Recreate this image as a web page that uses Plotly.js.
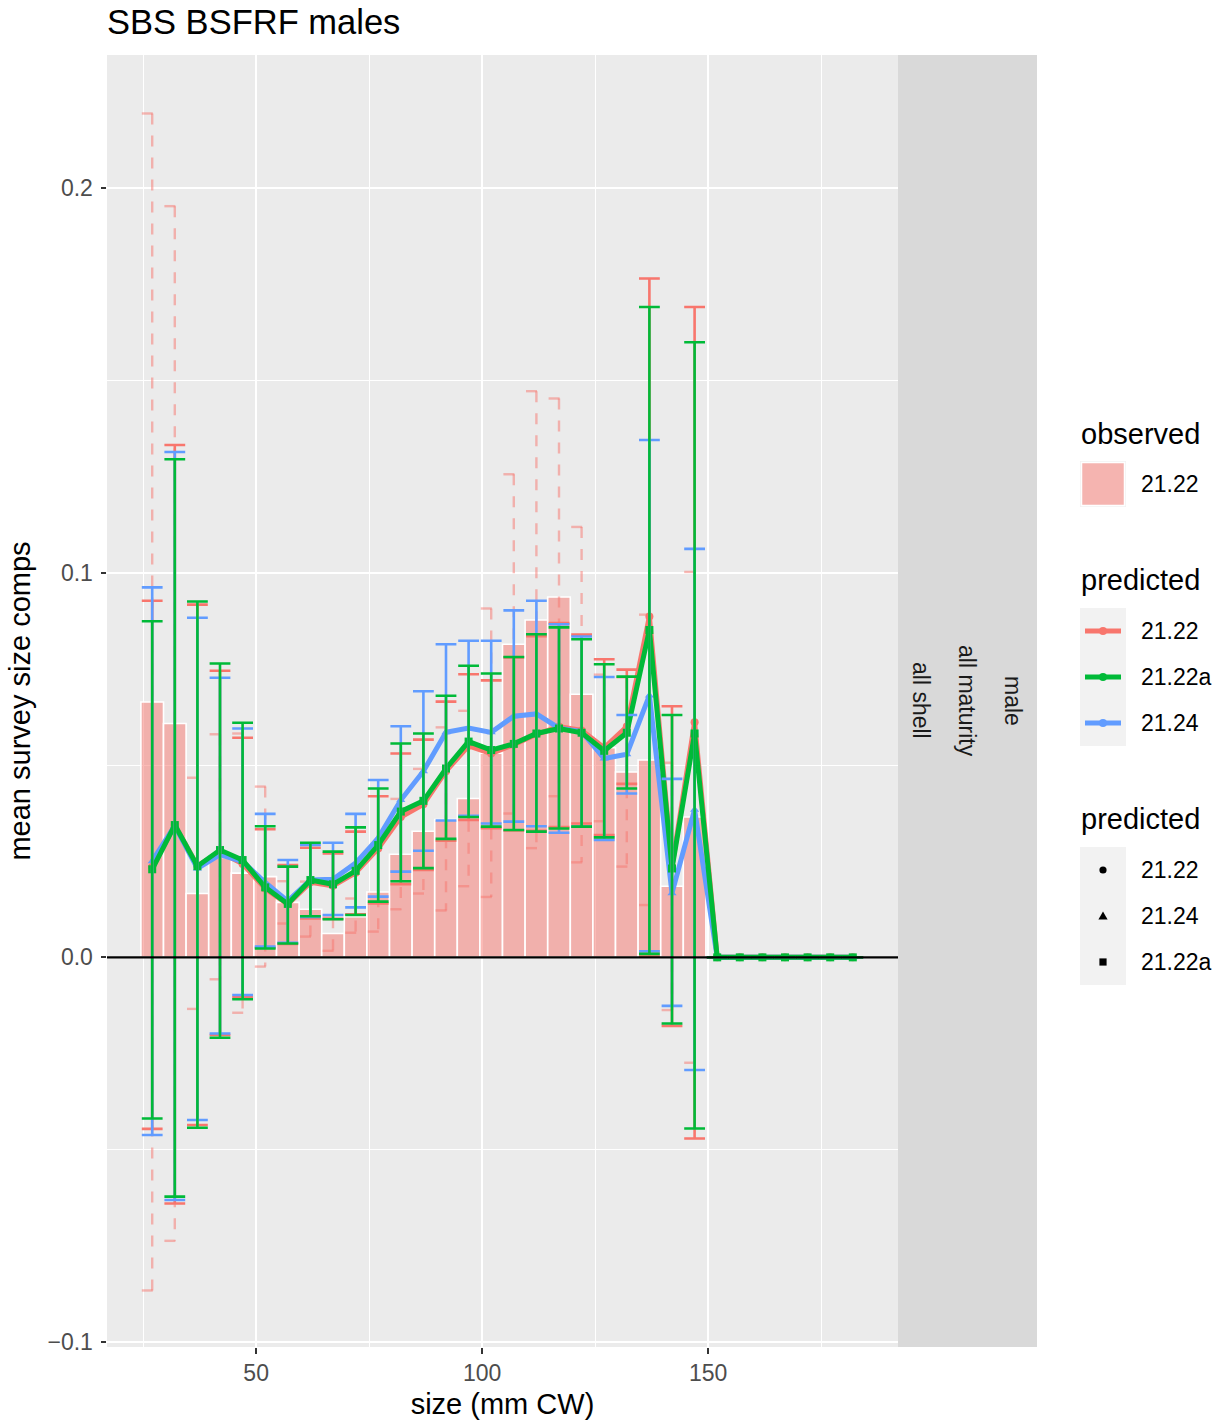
<!DOCTYPE html>
<html><head><meta charset="utf-8">
<script src="https://cdn.plot.ly/plotly-3.0.1.min.js"></script>
<style>html,body{margin:0;padding:0;background:#fff;} #chart{width:1225px;height:1424px;}</style>
</head><body><div id="chart"></div>
<script>
// ---------------- data ----------------
const sizeBins = [27,32,37,42,47,52,57,62,67,72,77,82,87,92,97,102,107,112,117,122,127,132,137,142,147,152,157,162,167,172,177,182];

const observed   = [0.0664,0.0608,0.0166,0.0260,0.0219,0.0210,0.0143,0.0125,0.0062,0.0106,0.0170,0.0268,0.0328,0.0358,0.0413,0.0531,0.0814,0.0877,0.0937,0.0684,0.0545,0.0482,0.0513,0.0185,0.0365,0,0,0,0,0,0,0];
const observedLo = [-0.0866,-0.0737,-0.0134,-0.0057,-0.0144,-0.0024,0.0088,0.0054,0.0017,0.0064,0.0067,0.0125,0.0166,0.0122,0.0185,0.0157,0.0374,0.0284,0.0419,0.0247,0.0354,0.0236,0.0136,-0.0137,-0.0274,null,null,null,null,null,null,null];
const observedHi = [0.2194,0.1953,0.0467,0.0580,0.0582,0.0444,0.0198,0.0197,0.0104,0.0153,0.0273,0.0412,0.0490,0.0598,0.0641,0.0907,0.1256,0.1472,0.1453,0.1119,0.0735,0.0728,0.0891,0.0506,0.1002,null,null,null,null,null,null,null];

// predicted 21.22
const pred2122   = [0.0235,0.0344,0.0238,0.0274,0.0243,0.0179,0.0138,0.0195,0.0186,0.0220,0.0283,0.0365,0.0398,0.0484,0.0550,0.0530,0.0553,0.0580,0.0600,0.0590,0.0545,0.0600,0.0886,0.0236,0.0611,0,0,0,0,0,0,0];
const pred2122Lo = [-0.0446,-0.0640,-0.0436,-0.0202,-0.0104,0.0025,0.0035,0.0101,0.0100,0.0112,0.0140,0.0190,0.0227,0.0303,0.0357,0.0336,0.0330,0.0329,0.0339,0.0348,0.0318,0.0451,0.0002,-0.0178,-0.0471,0,0,0,0,0,0,0];
const pred2122Hi = [0.0927,0.1332,0.0917,0.0745,0.0571,0.0333,0.0240,0.0285,0.0270,0.0327,0.0419,0.0530,0.0566,0.0665,0.0736,0.0720,0.0780,0.0835,0.0869,0.0839,0.0775,0.0748,0.1765,0.0653,0.1691,0,0,0,0,0,0,0];

// predicted 21.22a
const pred2122a   = [0.0229,0.0344,0.0237,0.0279,0.0253,0.0182,0.0139,0.0201,0.0190,0.0225,0.0292,0.0379,0.0407,0.0491,0.0561,0.0539,0.0555,0.0582,0.0595,0.0584,0.0537,0.0584,0.0851,0.0231,0.0582,0,0,0,0,0,0,0];
const pred2122aLo = [-0.0419,-0.0622,-0.0443,-0.0209,-0.0109,0.0023,0.0036,0.0107,0.0099,0.0110,0.0145,0.0198,0.0232,0.0308,0.0365,0.0340,0.0331,0.0327,0.0335,0.0340,0.0312,0.0439,0.0009,-0.0172,-0.0445,0,0,0,0,0,0,0];
const pred2122aHi = [0.0874,0.1295,0.0925,0.0764,0.0610,0.0341,0.0236,0.0298,0.0275,0.0338,0.0439,0.0556,0.0582,0.0680,0.0758,0.0738,0.0781,0.0840,0.0858,0.0827,0.0762,0.0730,0.1691,0.0630,0.1599,0,0,0,0,0,0,0];

// predicted 21.24
const pred2124   = [0.0250,0.0342,0.0231,0.0267,0.0249,0.0195,0.0146,0.0201,0.0203,0.0245,0.0310,0.0409,0.0484,0.0585,0.0596,0.0585,0.0627,0.0633,0.0596,0.0587,0.0517,0.0528,0.0681,0.0167,0.0384,0,0,0,0,0,0,0];
const pred2124Lo = [-0.0462,-0.0631,-0.0423,-0.0198,-0.0098,0.0028,0.0038,0.0105,0.0110,0.0130,0.0158,0.0223,0.0277,0.0356,0.0368,0.0348,0.0353,0.0341,0.0324,0.0340,0.0305,0.0426,0.0016,-0.0126,-0.0293,0,0,0,0,0,0,0];
const pred2124Hi = [0.0962,0.1314,0.0883,0.0727,0.0595,0.0373,0.0253,0.0292,0.0298,0.0373,0.0461,0.0601,0.0692,0.0814,0.0823,0.0823,0.0902,0.0927,0.0866,0.0834,0.0729,0.0630,0.1345,0.0464,0.1062,0,0,0,0,0,0,0];

const seriesNames = ['21.22','21.22a','21.24'];
const shapeLegendOrder = ['21.22','21.24','21.22a'];
const stripLabels = ['all shell','all maturity','male'];
const xTickVals = [50,100,150];
const xMinorVals = [25,75,125,175];
const yTickVals = [-0.1,0,0.1,0.2];
const yTickText = ['\u22120.1','0.0','0.1','0.2'];
const yMinorVals = [-0.05,0.05,0.15];

// ---------------- styles ----------------
const FONT = 'Liberation Sans, Arial, Helvetica, sans-serif';
const COL = {'21.22':'#F8766D','21.22a':'#00BA38','21.24':'#619CFF'};
const SYM = {'21.22':'circle','21.22a':'square','21.24':'triangle-up'};
const OBS_FILL = 'rgba(248,118,109,0.5)';
const ERR_HALF = 2.3; // half width of observed error bar, x units

const series = {
  '21.22':  {v: pred2122,  lo: pred2122Lo,  hi: pred2122Hi},
  '21.22a': {v: pred2122a, lo: pred2122aLo, hi: pred2122aHi},
  '21.24':  {v: pred2124,  lo: pred2124Lo,  hi: pred2124Hi}
};

const traces = [];
// observed bars
traces.push({type:'bar', x:sizeBins, y:observed, width:5,
  marker:{color:OBS_FILL, line:{color:'#FFFFFF', width:1.6}}, hoverinfo:'skip', showlegend:false});

// observed CI (dashed errorbar path)
const ox = [], oy = [];
sizeBins.forEach((s,i) => {
  const lo = observedLo[i], hi = observedHi[i];
  if (lo === null || hi === null) return;
  ox.push(s-ERR_HALF, s+ERR_HALF, null, s, s, null, s-ERR_HALF, s+ERR_HALF, null);
  oy.push(hi, hi, null, hi, lo, null, lo, lo, null);
});
traces.push({type:'scatter', mode:'lines', x:ox, y:oy, connectgaps:false,
  line:{color:OBS_FILL, width:2.4, dash:'11px,11px'}, hoverinfo:'skip', showlegend:false});

const drawOrder = ['21.22','21.24','21.22a'];
// predicted lines + points
drawOrder.forEach(n => {
  const d = series[n];
  traces.push({type:'scatter', mode:'lines+markers', x:sizeBins, y:d.v, name:n,
    line:{color:COL[n], width:5}, marker:{color:COL[n], symbol:SYM[n], size:8},
    hoverinfo:'skip', showlegend:false});
});
// predicted error bars
drawOrder.forEach(n => {
  const d = series[n];
  traces.push({type:'scatter', mode:'markers', x:sizeBins, y:d.v,
    marker:{color:'rgba(0,0,0,0)', size:1},
    error_y:{type:'data', symmetric:false,
      array:d.hi.map((h,i)=>h-d.v[i]), arrayminus:d.lo.map((l,i)=>d.v[i]-l),
      color:COL[n], thickness:2.6, width:10.4},
    hoverinfo:'skip', showlegend:false});
});

// ---------------- layout helpers (pixel -> paper) ----------------
const L = 107, R = 898, T = 55, B = 1347;
const px = v => (v - L) / (R - L);
const py = v => (B - v) / (B - T);

const shapes = [];
const annotations = [];
// zero reference line
shapes.push({type:'line', xref:'paper', x0:0, x1:1, yref:'y', y0:0, y1:0,
  line:{color:'#000000', width:2.2}, layer:'above'});
// facet strip
shapes.push({type:'rect', xref:'paper', yref:'paper', x0:1, x1:px(1037), y0:0, y1:1,
  fillcolor:'#D9D9D9', line:{width:0}, layer:'below'});
stripLabels.forEach((t,i) => {
  annotations.push({text:t, xref:'paper', yref:'paper', x:px(921 + i*46), y:0.5,
    textangle:90, showarrow:false, xanchor:'center', yanchor:'middle',
    font:{family:FONT, size:23, color:'#1A1A1A'}});
});

// legend
function legendTitle(text, cy){
  annotations.push({text:text, xref:'paper', yref:'paper', x:px(1079), y:py(cy),
    xanchor:'left', yanchor:'middle', showarrow:false, font:{family:FONT, size:29, color:'#000'}});
}
function legendLabel(text, cy){
  annotations.push({text:text, xref:'paper', yref:'paper', x:px(1139), y:py(cy),
    xanchor:'left', yanchor:'middle', showarrow:false, font:{family:FONT, size:23, color:'#000'}});
}
function keyBg(y0, y1){
  shapes.push({type:'rect', xref:'paper', yref:'paper', x0:px(1080), x1:px(1126), y0:py(y1), y1:py(y0),
    fillcolor:'#F2F2F2', line:{width:0}});
}
// observed
legendTitle('observed', 434);
keyBg(461, 507);
shapes.push({type:'rect', xref:'paper', yref:'paper', x0:px(1081.5), x1:px(1124.5), y0:py(505.5), y1:py(462.5),
  fillcolor:OBS_FILL, line:{color:'#FFFFFF', width:1.5}});
legendLabel('21.22', 484);
// predicted (colour)
legendTitle('predicted', 580);
keyBg(608, 746);
seriesNames.forEach((n,i) => {
  const cy = 631 + i*46;
  shapes.push({type:'line', xref:'paper', yref:'paper', x0:px(1085), x1:px(1121), y0:py(cy), y1:py(cy),
    line:{color:COL[n], width:5}});
  shapes.push({type:'circle', xref:'paper', yref:'paper', xsizemode:'pixel', ysizemode:'pixel',
    xanchor:px(1103), yanchor:py(cy), x0:-4, x1:4, y0:-4, y1:4, fillcolor:COL[n], line:{width:0}});
  legendLabel(n, cy);
});
// predicted (shape)
legendTitle('predicted', 819);
keyBg(847, 985);
shapeLegendOrder.forEach((n,i) => {
  const cy = 870 + i*46;
  const base = {xref:'paper', yref:'paper', xsizemode:'pixel', ysizemode:'pixel',
    xanchor:px(1103), yanchor:py(cy), fillcolor:'#000', line:{width:0}};
  if (SYM[n] === 'circle') shapes.push(Object.assign({type:'circle', x0:-3.6, x1:3.6, y0:-3.6, y1:3.6}, base));
  else if (SYM[n] === 'square') shapes.push(Object.assign({type:'rect', x0:-3.6, x1:3.6, y0:-3.6, y1:3.6}, base));
  else shapes.push(Object.assign({type:'path', path:'M-4.6,-3.5 L4.6,-3.5 L0,4.6 Z'}, base));
  legendLabel(n, cy);
});

const layout = {
  width:1225, height:1424,
  margin:{l:L, r:1225-R, t:T, b:1424-B, pad:0},
  paper_bgcolor:'#FFFFFF', plot_bgcolor:'#EBEBEB',
  font:{family:FONT, color:'#000'},
  showlegend:false, hovermode:false, bargap:0,
  title:{text:'SBS BSFRF males', x:px(107), xref:'paper', xanchor:'left',
    y:1-22/1424, yref:'container', yanchor:'middle', font:{family:FONT, size:34.5, color:'#000'}},
  xaxis:{range:[17,192], tickvals:xTickVals, ticks:'outside', ticklen:5.5, tickwidth:2, tickcolor:'#333333',
    tickfont:{family:FONT, size:23, color:'#4D4D4D'}, showgrid:true, gridcolor:'#FFFFFF', gridwidth:2,
    minor:{tickvals:xMinorVals, showgrid:true, gridcolor:'#FFFFFF', gridwidth:1, ticks:''},
    zeroline:false, showline:false, automargin:false,
    title:{text:'size (mm CW)', font:{family:FONT, size:29, color:'#000'}, standoff:8}},
  yaxis:{range:[-0.1013,0.2346], tickvals:yTickVals, ticktext:yTickText, ticks:'outside', ticklen:5.5, tickwidth:2,
    tickcolor:'#333333', tickfont:{family:FONT, size:23, color:'#4D4D4D'}, showgrid:true, gridcolor:'#FFFFFF', gridwidth:2,
    minor:{tickvals:yMinorVals, showgrid:true, gridcolor:'#FFFFFF', gridwidth:1, ticks:''},
    zeroline:false, showline:false, automargin:false, ticklabelstandoff:3,
    title:{text:'mean survey size comps', font:{family:FONT, size:29, color:'#000'}, standoff:8}},
  shapes:shapes, annotations:annotations
};

Plotly.newPlot('chart', traces, layout, {displayModeBar:false, staticPlot:true});
</script></body></html>
